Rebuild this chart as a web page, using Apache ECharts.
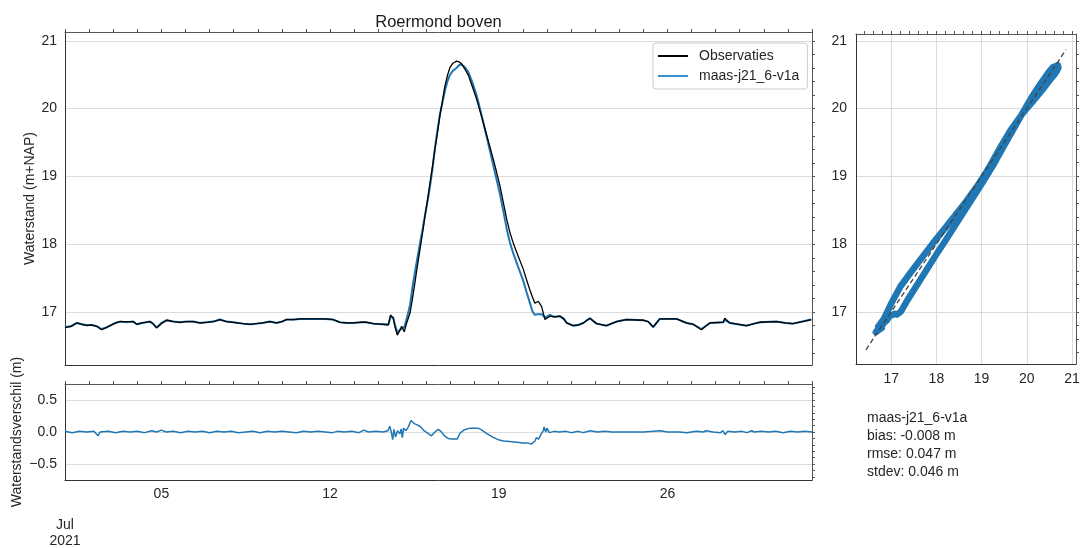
<!DOCTYPE html>
<html>
<head>
<meta charset="utf-8">
<script src="https://cdn.jsdelivr.net/npm/echarts@6.0.0/dist/echarts.min.js"></script>
<style>
  html, body { margin: 0; padding: 0; background: #ffffff; }
  #chart { width: 1086px; height: 548px; }
</style>
</head>
<body>
<div id="chart"></div>
<script>
// ---------------- data ----------------
// fractional day-of-month, July 2021
const days = [1.00,1.25,1.49,1.70,1.90,2.10,2.32,2.52,2.70,2.87,3.10,3.28,3.55,3.83,3.98,4.20,4.53,4.65,4.80,5.00,
  5.22,5.50,5.77,6.05,6.32,6.60,6.88,7.15,7.43,7.70,7.98,8.39,8.70,8.95,9.20,9.50,9.78,10.00,10.19,10.50,
  10.75,11.10,11.44,11.80,12.13,12.41,12.70,12.96,13.25,13.51,13.80,14.20,14.42,14.51,14.62,14.70,14.79,14.88,14.97,15.08,
  15.18,15.32,15.42,15.52,15.62,15.73,15.84,15.94,16.05,16.15,16.25,16.35,16.46,16.56,16.67,16.77,16.88,16.98,17.10,17.25,
  17.35,17.46,17.60,17.74,17.90,18.08,18.25,18.43,18.60,18.77,18.90,19.05,19.20,19.33,19.46,19.60,19.80,20.02,20.15,20.29,
  20.40,20.50,20.64,20.78,20.92,20.99,21.12,21.30,21.54,21.70,21.82,22.09,22.30,22.51,22.78,23.06,23.47,23.89,24.30,24.99,
  25.20,25.41,25.68,26.38,26.79,27.07,27.41,27.76,28.31,28.38,28.59,29.28,29.60,29.83,30.52,30.90,31.21,31.60,31.97];
const obs = [16.77,16.79,16.84,16.82,16.80,16.81,16.79,16.74,16.77,16.80,16.84,16.86,16.86,16.86,16.82,16.84,16.86,16.83,16.77,16.83,
  16.88,16.86,16.85,16.86,16.86,16.84,16.85,16.86,16.89,16.86,16.85,16.83,16.82,16.83,16.84,16.86,16.84,16.86,16.89,16.89,
  16.90,16.90,16.90,16.90,16.89,16.85,16.84,16.84,16.85,16.85,16.83,16.82,16.81,16.96,16.91,16.78,16.66,16.72,16.79,16.71,
  16.84,16.99,17.20,17.43,17.67,17.92,18.17,18.42,18.67,18.91,19.15,19.40,19.65,19.90,20.13,20.34,20.50,20.61,20.67,20.70,
  20.69,20.66,20.58,20.49,20.33,20.14,19.93,19.70,19.48,19.26,19.08,18.86,18.60,18.37,18.18,18.02,17.83,17.63,17.48,17.33,
  17.22,17.13,17.16,17.08,16.89,16.89,16.94,16.93,16.94,16.90,16.84,16.80,16.81,16.84,16.91,16.83,16.80,16.86,16.89,16.88,
  16.86,16.78,16.90,16.90,16.84,16.82,16.74,16.84,16.85,16.91,16.84,16.80,16.83,16.85,16.86,16.84,16.83,16.86,16.89];
const sim = [16.78,16.79,16.84,16.82,16.81,16.81,16.79,16.75,16.77,16.80,16.84,16.86,16.85,16.86,16.82,16.84,16.86,16.83,16.77,16.84,
  16.88,16.86,16.85,16.86,16.86,16.84,16.85,16.86,16.89,16.86,16.85,16.83,16.82,16.83,16.84,16.86,16.84,16.86,16.89,16.89,
  16.90,16.90,16.90,16.90,16.89,16.85,16.84,16.84,16.85,16.85,16.83,16.82,16.82,16.93,16.92,16.80,16.70,16.73,16.76,16.78,
  16.90,17.11,17.37,17.58,17.79,18.01,18.22,18.43,18.64,18.86,19.11,19.41,19.69,19.92,20.10,20.27,20.41,20.50,20.56,20.60,
  20.64,20.65,20.61,20.54,20.39,20.20,19.96,19.69,19.43,19.17,18.97,18.74,18.47,18.23,18.03,17.87,17.67,17.46,17.30,17.14,
  17.01,16.96,16.97,16.97,16.92,16.93,16.96,16.93,16.94,16.90,16.84,16.80,16.81,16.84,16.91,16.83,16.80,16.86,16.89,16.88,
  16.86,16.78,16.90,16.90,16.84,16.82,16.75,16.84,16.85,16.88,16.84,16.80,16.83,16.85,16.86,16.84,16.83,16.86,16.89];

const diffDays = [1.00,1.30,1.60,1.90,2.20,2.37,2.45,2.80,3.10,3.40,3.70,4.00,4.30,4.60,4.80,5.00,5.20,5.50,5.80,6.10,
  6.40,6.70,7.00,7.30,7.60,7.90,8.20,8.50,8.80,9.10,9.40,9.70,10.00,10.30,10.60,10.90,11.20,11.50,11.80,12.10,
  12.30,12.60,12.90,13.20,13.40,13.60,13.90,14.20,14.40,14.48,14.55,14.60,14.65,14.72,14.80,14.90,14.95,15.00,15.05,15.15,
  15.25,15.36,15.50,15.73,15.90,16.21,16.35,16.49,16.60,16.77,16.90,17.05,17.28,17.39,17.55,17.80,18.15,18.30,18.49,18.75,
  18.98,19.20,19.46,19.75,20.02,20.20,20.35,20.42,20.50,20.56,20.65,20.75,20.85,20.88,20.95,21.00,21.10,21.30,21.50,21.80,
  22.00,22.30,22.50,22.80,23.10,23.40,23.70,24.00,24.50,25.00,25.40,25.70,26.00,26.50,26.80,27.00,27.20,27.50,27.60,27.90,
  28.20,28.30,28.40,28.50,28.80,29.10,29.30,29.50,29.60,29.90,30.20,30.50,30.80,31.10,31.40,31.70,32.00];
const diffVals = [0.01,-0.01,0.01,0.00,0.01,-0.06,0.00,0.01,-0.01,0.01,0.00,0.01,-0.01,0.02,0.00,0.03,0.00,0.01,-0.01,0.01,
  0.00,0.01,-0.01,0.01,0.00,0.01,-0.01,0.00,0.01,-0.01,0.01,0.00,0.01,0.00,-0.01,0.01,0.00,0.01,0.00,-0.01,
  0.01,0.00,0.01,-0.01,0.03,0.00,0.01,0.00,0.02,0.09,-0.02,-0.12,0.04,-0.08,0.02,-0.03,0.05,-0.09,0.06,0.02,
  0.08,0.18,0.13,0.09,0.02,-0.06,0.00,0.04,0.01,-0.07,-0.10,-0.11,-0.11,-0.02,0.03,0.06,0.06,0.03,-0.02,-0.08,
  -0.12,-0.14,-0.15,-0.16,-0.17,-0.17,-0.19,-0.21,-0.14,-0.09,-0.11,-0.04,0.02,0.08,0.00,0.06,-0.01,0.01,0.00,0.01,
  -0.01,0.01,-0.01,0.02,0.00,0.01,0.00,0.00,0.00,0.00,0.01,0.02,0.00,0.00,-0.01,0.00,0.01,0.00,0.02,0.00,
  -0.01,0.02,-0.04,0.01,0.00,0.01,-0.01,0.02,0.00,0.01,0.00,0.01,-0.01,0.01,0.00,0.01,0.00];

const timeTickDays = [1, 5, 12, 19, 26];
const levelTicks = [17, 18, 19, 20, 21];
const diffTicks = [-0.5, 0, 0.5];
const scatterTicks = [17, 18, 19, 20, 21];
const diagLine = [16.44, 20.87];
const titleText = 'Roermond boven';
const obsName = 'Observaties';
const simName = 'maas-j21_6-v1a';
const monthLabel = 'Jul\n2021';
const statsLines = ['maas-j21_6-v1a', 'bias: -0.008 m', 'rmse: 0.047 m', 'stdev: 0.046 m'];

// ---------------- helpers ----------------
const T0 = Date.UTC(2021, 6, 1);
const toMs = d => T0 + (d - 1) * 864e5;
const xMin = toMs(1), xMax = toMs(32);
const FONT = "'Liberation Sans', Arial, sans-serif";
const TXT = '#262626';
const GRIDC = '#dcdcdc';
const SPINE = '#333333';
const SPINE2 = '#555555';

function range(a, b, step) {
  const out = [];
  for (let v = a; v <= b + 1e-9; v += step) out.push(Math.round(v * 1000) / 1000);
  return out;
}
const dailyTicks = range(1, 32, 1).map(toMs);
const levelMinor = range(16.4, 21.0, 0.2);
const diffMinor = range(-0.7, 0.7, 0.1);
const scatterMinor = range(16.4, 21.0, 0.2);

const labelStyle = { fontSize: 14, color: TXT, fontFamily: FONT };
const nameStyle = { fontSize: 14, color: TXT, fontFamily: FONT };

const chart = echarts.init(document.getElementById('chart'), null, { renderer: 'canvas' });

const option = {
  animation: false,
  backgroundColor: '#ffffff',
  textStyle: { fontFamily: FONT },
  grid: [
    { left: 65, top: 32, width: 747, height: 333 },
    { left: 65, top: 384, width: 747, height: 97 },
    { left: 856, top: 34, width: 220, height: 330 }
  ],
  legend: {
    data: [{ name: obsName, icon: 'rect' }, { name: simName, icon: 'rect' }],
    orient: 'vertical',
    left: 653, top: 43,
    padding: [6, 8, 6, 5],
    itemWidth: 30, itemHeight: 2, itemGap: 6,
    backgroundColor: '#ffffff',
    borderColor: '#cccccc', borderWidth: 1, borderRadius: 3,
    textStyle: { fontSize: 14, lineHeight: 14, color: TXT, fontFamily: FONT, padding: [0, 0, 0, 6] }
  },
  xAxis: [
    { gridIndex: 0, type: 'value', position: 'bottom', min: xMin, max: xMax,
      axisLine: { show: true, onZero: false, lineStyle: { color: SPINE } }, axisTick: { show: false },
      axisLabel: { show: false }, splitLine: { show: false } },
    { gridIndex: 0, type: 'value', position: 'top', min: xMin, max: xMax,
      axisLine: { show: true, onZero: false, lineStyle: { color: SPINE2 } },
      axisTick: { show: true, customValues: dailyTicks, length: 3, lineStyle: { color: SPINE2 } },
      axisLabel: { show: false }, splitLine: { show: false } },
    { gridIndex: 1, type: 'value', position: 'bottom', min: xMin, max: xMax,
      axisLine: { show: true, onZero: false, lineStyle: { color: SPINE } }, axisTick: { show: false },
      axisLabel: Object.assign({ customValues: timeTickDays.map(toMs), margin: 6, lineHeight: 16,
        formatter: v => {
          const d = new Date(v).getUTCDate();
          return d === 1 ? '{m|' + monthLabel + '}' : String(d).padStart(2, '0');
        },
        rich: { m: { fontSize: 14, lineHeight: 16, color: TXT, fontFamily: FONT, padding: [62, 0, 0, 0] } }
      }, labelStyle),
      splitLine: { show: false } },
    { gridIndex: 1, type: 'value', position: 'top', min: xMin, max: xMax,
      axisLine: { show: true, onZero: false, lineStyle: { color: SPINE2 } },
      axisTick: { show: true, customValues: dailyTicks, length: 3, lineStyle: { color: SPINE2 } },
      axisLabel: { show: false }, splitLine: { show: false } },
    { gridIndex: 2, type: 'value', position: 'bottom', min: 16.22, max: 21.09,
      axisLine: { show: true, onZero: false, lineStyle: { color: SPINE } },
      axisTick: { show: false, customValues: scatterTicks },
      axisLabel: Object.assign({ customValues: scatterTicks, margin: 8 }, labelStyle),
      splitLine: { show: true, lineStyle: { color: GRIDC, width: 1 } } },
    { gridIndex: 2, type: 'value', position: 'top', min: 16.22, max: 21.09,
      axisLine: { show: true, onZero: false, lineStyle: { color: SPINE2 } },
      axisTick: { show: true, customValues: scatterMinor, length: 3, lineStyle: { color: SPINE2 } },
      axisLabel: { show: false }, splitLine: { show: false } }
  ],
  yAxis: [
    { gridIndex: 0, type: 'value', position: 'left', min: 16.22, max: 21.13,
      axisLine: { show: true, onZero: false, lineStyle: { color: SPINE } },
      axisTick: { show: false, customValues: levelTicks },
      axisLabel: Object.assign({ customValues: levelTicks, margin: 8 }, labelStyle),
      splitLine: { show: true, lineStyle: { color: GRIDC, width: 1 } },
      name: 'Waterstand (m+NAP)', nameLocation: 'middle', nameGap: 28, nameMoveOverlap: false,
      nameTextStyle: nameStyle },
    { gridIndex: 0, type: 'value', position: 'right', min: 16.22, max: 21.13,
      axisLine: { show: true, onZero: false, lineStyle: { color: SPINE2 } },
      axisTick: { show: true, customValues: levelMinor, length: 3, lineStyle: { color: SPINE2 } },
      axisLabel: { show: false }, splitLine: { show: false } },
    { gridIndex: 1, type: 'value', position: 'left', min: -0.75, max: 0.75,
      axisLine: { show: true, onZero: false, lineStyle: { color: SPINE } },
      axisTick: { show: false, customValues: diffTicks },
      axisLabel: Object.assign({ customValues: diffTicks, margin: 8,
        formatter: v => v.toFixed(1).replace('-', '\u2212') }, labelStyle),
      splitLine: { show: true, lineStyle: { color: GRIDC, width: 1 } },
      name: 'Waterstandsverschil (m)', nameLocation: 'middle', nameGap: 41, nameMoveOverlap: false,
      nameTextStyle: nameStyle },
    { gridIndex: 1, type: 'value', position: 'right', min: -0.75, max: 0.75,
      axisLine: { show: true, onZero: false, lineStyle: { color: SPINE2 } },
      axisTick: { show: true, customValues: diffMinor, length: 3, lineStyle: { color: SPINE2 } },
      axisLabel: { show: false }, splitLine: { show: false } },
    { gridIndex: 2, type: 'value', position: 'left', min: 16.23, max: 21.10,
      axisLine: { show: true, onZero: false, lineStyle: { color: SPINE } },
      axisTick: { show: false, customValues: scatterTicks },
      axisLabel: Object.assign({ customValues: scatterTicks, margin: 9 }, labelStyle),
      splitLine: { show: true, lineStyle: { color: GRIDC, width: 1 } } },
    { gridIndex: 2, type: 'value', position: 'right', min: 16.23, max: 21.10,
      axisLine: { show: true, onZero: false, lineStyle: { color: SPINE2 } },
      axisTick: { show: true, customValues: scatterMinor, length: 3, lineStyle: { color: SPINE2 } },
      axisLabel: { show: false }, splitLine: { show: false } }
  ],
  series: [
    { name: simName, type: 'line', xAxisIndex: 0, yAxisIndex: 0, symbol: 'none', z: 2,
      data: days.map((d, i) => [toMs(d), sim[i]]),
      lineStyle: { color: '#1f77b4', width: 2 }, itemStyle: { color: '#3a8fd0' } },
    { name: obsName, type: 'line', xAxisIndex: 0, yAxisIndex: 0, symbol: 'none', z: 3,
      data: days.map((d, i) => [toMs(d), obs[i]]),
      lineStyle: { color: '#000000', width: 1.3 }, itemStyle: { color: '#000000' } },
    { type: 'line', xAxisIndex: 3, yAxisIndex: 2, symbol: 'none',
      data: diffDays.map((d, i) => [toMs(d), diffVals[i]]),
      lineStyle: { color: '#1f77b4', width: 1.5 } },
    { type: 'line', xAxisIndex: 4, yAxisIndex: 4, symbol: 'none', z: 2,
      data: obs.map((o, i) => [o, sim[i]]),
      lineStyle: { color: '#1f77b4', width: 6.5, cap: 'round', join: 'round' } },
    { type: 'line', xAxisIndex: 4, yAxisIndex: 4, symbol: 'none', z: 5,
      data: [[diagLine[0], diagLine[0]], [diagLine[1], diagLine[1]]],
      lineStyle: { color: '#444444', width: 1.3, type: [5, 3] } }
  ],
  graphic: [
    { type: 'text', x: 438.5, y: 22,
      style: { text: titleText, fontSize: 16.5, fontFamily: FONT, fill: '#1a1a1a',
        textAlign: 'center', textVerticalAlign: 'middle' } },
    { type: 'text', x: 867, y: 409,
      style: { text: statsLines.join('\n'), fontSize: 14, lineHeight: 18, fontFamily: FONT, fill: TXT } }
  ]
};
chart.setOption(option);
</script>
</body>
</html>
